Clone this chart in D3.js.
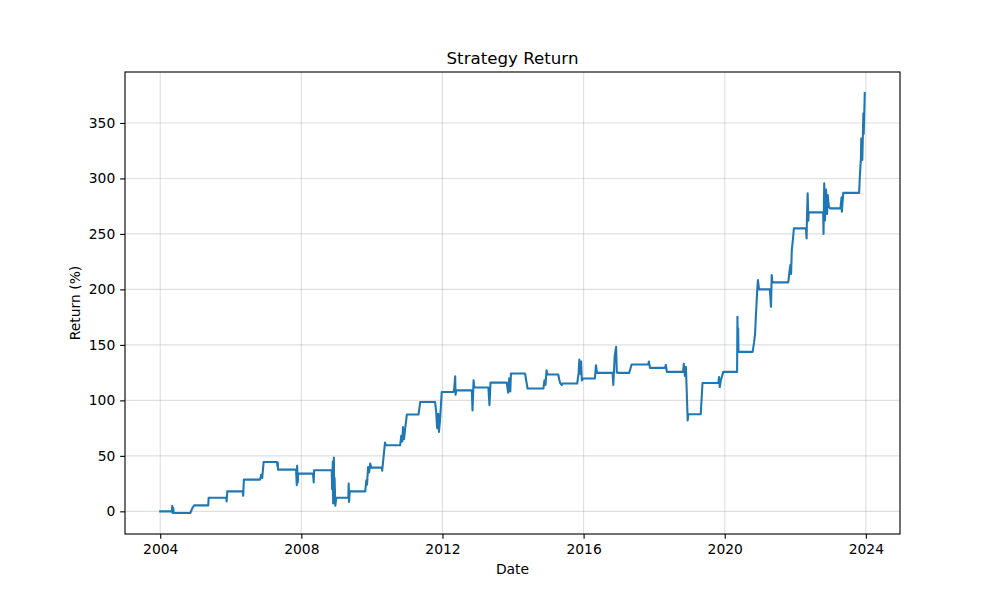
<!DOCTYPE html>
<html>
<head>
<meta charset="utf-8">
<script src="https://cdn.jsdelivr.net/npm/d3@7"></script>
<style>
  html, body { margin: 0; padding: 0; background: #fff; }
  svg { display: block; font-family: "DejaVu Sans", sans-serif; }
</style>
</head>
<body>
<div id="chart"></div>
<script>
/* ── Data (decimal year, return %) ────────────────────────────────── */
const years = [
  2004.00, 2004.33, 2004.34, 2004.35, 2004.37, 2004.38, 2004.85, 2004.91, 2004.96,
  2005.36, 2005.37, 2005.87, 2005.88, 2005.90, 2006.34, 2006.35, 2006.37,
  2006.83, 2006.86, 2006.89, 2006.93, 2007.31, 2007.32, 2007.33, 2007.34,
  2007.85, 2007.87, 2007.88, 2007.90, 2007.91, 2008.33, 2008.35, 2008.36,
  2008.86, 2008.87, 2008.89, 2008.90, 2008.92, 2008.93, 2008.94, 2008.96, 2008.99,
  2009.33, 2009.34, 2009.35, 2009.37, 2009.81, 2009.84, 2009.86, 2009.89, 2009.92,
  2009.95, 2009.98, 2010.28, 2010.29, 2010.37, 2010.40, 2010.80, 2010.83, 2010.86,
  2010.88, 2010.91, 2010.94, 2010.99, 2011.32, 2011.37, 2011.79, 2011.82, 2011.85,
  2011.88, 2011.90, 2011.93, 2011.98, 2012.31, 2012.33, 2012.36, 2012.37, 2012.39,
  2012.83, 2012.85, 2012.88, 2012.90, 2013.30, 2013.33, 2013.36, 2013.82, 2013.86,
  2013.89, 2013.92, 2013.94, 2014.34, 2014.41, 2014.86, 2014.89, 2014.92, 2014.95,
  2014.98, 2015.28, 2015.33, 2015.38, 2015.40, 2015.82, 2015.86, 2015.88, 2015.90,
  2015.93, 2015.95, 2015.99, 2016.32, 2016.35, 2016.38, 2016.82, 2016.84, 2016.88,
  2016.92, 2016.94, 2016.96, 2017.29, 2017.36, 2017.83, 2017.85, 2017.88, 2018.31,
  2018.33, 2018.36, 2018.82, 2018.84, 2018.87, 2018.90, 2018.95, 2018.97, 2019.32,
  2019.37, 2019.82, 2019.84, 2019.86, 2019.89, 2019.96, 2020.35, 2020.36, 2020.37,
  2020.38, 2020.39, 2020.79, 2020.83, 2020.86, 2020.88, 2020.92, 2020.94, 2020.97,
  2021.28, 2021.31, 2021.33, 2021.35, 2021.80, 2021.83, 2021.86, 2021.88, 2021.90,
  2021.93, 2021.96, 2022.30, 2022.32, 2022.33, 2022.35, 2022.37, 2022.38, 2022.79,
  2022.80, 2022.82, 2022.84, 2022.87, 2022.90, 2022.92, 2022.95, 2022.98, 2023.28,
  2023.31, 2023.32, 2023.36, 2023.81, 2023.83, 2023.86, 2023.87, 2023.90, 2023.93,
  2023.94, 2023.97
];
const returns = [
  0, 0, 5, -1.5, 3, -1.5, -1.5, 3, 5.4,
  5.4, 12.3, 12.3, 9, 18, 18, 14, 28.6,
  28.6, 33, 30, 44.5, 44.5, 41, 44, 37.6,
  37.6, 23.5, 41, 26, 34, 34, 26, 37,
  37, 20, 45, 7, 48.4, 12, 30, 5, 12.3,
  12.3, 25, 8.4, 18, 18, 28, 24, 40, 35,
  43, 39.4, 39.4, 36.6, 62, 59.5, 59.5, 68, 63,
  76, 65, 74, 87.2, 87.2, 98.6, 98.6, 90, 75,
  88, 71.5, 82, 107.6, 107.6, 110, 121.8, 105, 109,
  109, 91, 118, 111.6, 111.6, 95.6, 116, 116, 107,
  120, 108, 124.2, 124.2, 110.7, 110.7, 118, 114, 127.2,
  123.3, 123.3, 116, 113.7, 115.2, 115.2, 125, 136.8, 124,
  135, 118, 119.7, 119.7, 131.7, 124.8, 124.8, 114, 140,
  148.2, 125, 124.8, 124.8, 132.3, 132.3, 135, 129.3, 129.3,
  132, 125.7, 125.7, 133, 122, 130, 82, 87.5, 87.5,
  115.7, 115.7, 121, 112, 118, 125.7, 125.7, 175.3, 145,
  165, 143.7, 143.7, 152, 160.3, 175, 199.4, 208.4, 200,
  200, 184.3, 212.9, 206.3, 206.3, 215, 222, 214, 235.4,
  244.5, 255, 255, 246, 265, 286.6, 262, 269.4, 269.4,
  250, 295.6, 262, 290, 268, 285, 275, 273, 273,
  283, 270, 287, 287, 301.5, 318, 336, 316.6, 358.7,
  340, 377
];
const xTickYears = [2004, 2008, 2012, 2016, 2020, 2024];
const yTicks = [0, 50, 100, 150, 200, 250, 300, 350];

/* ── Layout (matplotlib default figure 10x6 @ 100dpi) ─────────────── */
const W = 1000, H = 600;
const ML = 125, MR = 100, MT = 72, MB = 66;
const w = W - ML - MR, h = H - MT - MB;
const PT = 100 / 72;   // px per point

function toDate(dy) {
  const y = Math.floor(dy);
  const a = Date.UTC(y, 0, 1), b = Date.UTC(y + 1, 0, 1);
  return new Date(a + (dy - y) * (b - a));
}

const data = years.map((y, i) => ({ date: toDate(y), value: returns[i] }));

const svg = d3.select('#chart').append('svg')
  .attr('width', W).attr('height', H)
  .attr('viewBox', `0 0 ${W} ${H}`);

svg.append('rect').attr('width', W).attr('height', H).attr('fill', '#fff');

const g = svg.append('g').attr('transform', `translate(${ML},${MT})`);

/* ── Scales with 5% margins ─────────────────────────────────────── */
const [x0, x1] = d3.extent(data, d => +d.date);
const xPad = (x1 - x0) * 0.05;
const x = d3.scaleUtc().domain([new Date(x0 - xPad), new Date(x1 + xPad)]).range([0, w]);

const [v0, v1] = d3.extent(returns);
const yPad = (v1 - v0) * 0.05;
const y = d3.scaleLinear().domain([v0 - yPad, v1 + yPad]).range([h, 0]);

/* ── Grid ────────────────────────────────────────────────────────── */
const grid = g.append('g').attr('class', 'grid');
xTickYears.forEach(yr => {
  const gx = x(new Date(Date.UTC(yr, 0, 1)));
  grid.append('line')
    .attr('x1', gx).attr('x2', gx).attr('y1', 0).attr('y2', h)
    .attr('stroke', '#b0b0b0').attr('stroke-opacity', 0.4).attr('stroke-width', 0.8 * PT);
});
yTicks.forEach(t => {
  grid.append('line')
    .attr('x1', 0).attr('x2', w).attr('y1', y(t)).attr('y2', y(t))
    .attr('stroke', '#b0b0b0').attr('stroke-opacity', 0.4).attr('stroke-width', 0.8 * PT);
});

/* ── Line ────────────────────────────────────────────────────────── */
const line = d3.line().x(d => x(d.date)).y(d => y(d.value));
g.append('path')
  .datum(data)
  .attr('d', line)
  .attr('fill', 'none')
  .attr('stroke', '#1f77b4')
  .attr('stroke-width', 1.5 * PT)
  .attr('stroke-linejoin', 'round')
  .attr('stroke-linecap', 'square');

/* ── Axes ────────────────────────────────────────────────────────── */
const tickLen = 3.5 * PT, tickPad = 3.5 * PT;
const xAxis = g.append('g')
  .attr('transform', `translate(0,${h})`)
  .call(d3.axisBottom(x)
    .tickValues(xTickYears.map(yr => new Date(Date.UTC(yr, 0, 1))))
    .tickFormat(d3.utcFormat('%Y'))
    .tickSize(tickLen).tickPadding(tickPad));

const yAxis = g.append('g')
  .call(d3.axisLeft(y)
    .tickValues(yTicks)
    .tickFormat(d3.format('d'))
    .tickSize(tickLen).tickPadding(tickPad));

[xAxis, yAxis].forEach(ax => {
  ax.select('.domain').remove();
  ax.selectAll('.tick line').attr('stroke', '#000').attr('stroke-width', 0.8 * PT);
  ax.selectAll('.tick text')
    .attr('fill', '#000')
    .attr('font-size', `${10 * PT}px`)
    .attr('font-family', 'DejaVu Sans, sans-serif');
});

// spines
g.append('rect')
  .attr('x', 0).attr('y', 0).attr('width', w).attr('height', h)
  .attr('fill', 'none').attr('stroke', '#000').attr('stroke-width', 0.8 * PT);

/* ── Labels ──────────────────────────────────────────────────────── */
svg.append('text')
  .attr('x', ML + w / 2).attr('y', MT - 6 * PT)
  .attr('text-anchor', 'middle')
  .attr('font-size', `${12 * PT}px`)
  .attr('fill', '#000')
  .text('Strategy Return');

svg.append('text')
  .attr('x', ML + w / 2).attr('y', 574)
  .attr('text-anchor', 'middle')
  .attr('font-size', `${10 * PT}px`)
  .attr('fill', '#000')
  .text('Date');

svg.append('text')
  .attr('transform', `translate(80,${MT + h / 2}) rotate(-90)`)
  .attr('text-anchor', 'middle')
  .attr('font-size', `${10 * PT}px`)
  .attr('fill', '#000')
  .text('Return (%)');
</script>
</body>
</html>
